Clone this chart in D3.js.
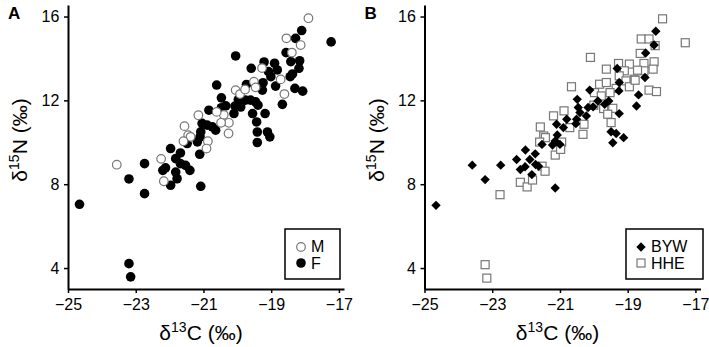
<!DOCTYPE html>
<html>
<head>
<meta charset="utf-8">
<script src="https://cdn.jsdelivr.net/npm/d3@7"></script>
<style>
    body { margin: 0; background: #fff; }
    text { font-family: "Liberation Sans", Arial, sans-serif; fill: #000; }
</style>
</head>
<body>
<div id="chart"></div>
<script>
// panel A - sex
var maleC = [-17.90, -18.55, -18.13, -18.39, -19.27, -18.72, -18.61, -19.51, -20.05, -19.92, -19.77, -19.46,
    -21.15, -20.40, -20.25, -20.48, -21.56, -21.45, -21.38, -21.59, -20.87, -20.26, -20.91, -22.25, -22.17, -23.56, -20.61];
var maleN = [15.92, 14.96, 14.64, 14.28, 13.54, 13.00, 12.30, 12.89, 12.49, 12.30, 12.52, 12.62,
    11.29, 11.31, 10.93, 10.93, 10.77, 10.34, 10.26, 10.05, 10.05, 10.42, 9.70, 9.21, 8.14, 8.93, 11.45];
var femaleC = [-17.23, -18.10, -18.28, -18.56, -18.16, -18.42, -18.18, -18.37, -18.44, -18.30, -18.07, -18.67,
    -20.05, -19.59, -19.21, -18.90, -19.08, -18.82, -19.01, -19.24, -19.46, -19.73, -19.26, -18.87,
    -20.61, -20.47, -20.34, -20.07, -19.97, -19.76, -19.61, -19.46, -19.39, -19.90, -20.10, -19.18,
    -19.55, -19.43, -19.41, -19.11, -19.04, -19.41, -20.84, -20.47, -21.04, -20.89, -20.74, -20.64,
    -21.08, -21.10, -21.18, -21.11, -21.48, -21.97, -21.68, -21.82, -21.68, -21.53, -21.40, -22.12,
    -21.82, -21.78, -21.97, -21.08, -22.74, -23.20, -22.74, -24.66, -23.20, -23.15, -22.20];
var femaleN = [14.79, 15.33, 14.96, 14.28, 13.89, 13.85, 13.53, 13.26, 13.13, 12.57, 12.44, 11.81,
    14.12, 13.53, 13.83, 13.77, 13.37, 13.45, 13.13, 12.84, 12.73, 12.76, 12.49, 12.68,
    12.73, 12.12, 11.74, 11.73, 12.04, 12.01, 12.01, 11.93, 11.77, 11.68, 11.37, 11.37,
    11.37, 10.97, 10.49, 10.49, 10.26, 9.99, 11.53, 11.65, 10.90, 10.82, 10.74, 10.58,
    10.50, 10.26, 10.02, 9.43, 9.94, 9.70, 9.49, 9.22, 8.98, 8.90, 8.66, 8.78,
    8.58, 8.26, 7.95, 7.90, 8.98, 8.25, 7.55, 7.04, 4.21, 3.58, 8.66];

// panel B - species
var bywC = [-18.17, -18.22, -18.47, -18.49, -18.68, -18.74, -19.31, -19.25, -19.26, -19.25, -19.49, -19.34,
    -19.44, -19.12, -19.68, -19.56, -19.88, -20.12, -20.02, -20.17, -20.49, -20.46, -20.41, -20.51,
    -20.53, -20.22, -20.80, -21.10, -20.90, -21.08, -21.14, -21.22, -21.53, -22.02, -21.73, -21.89,
    -22.28, -21.72, -21.63, -22.17, -21.83, -22.03, -21.14, -22.75, -23.59, -23.21, -24.66, -21.00];
var bywN = [15.30, 14.64, 14.26, 13.09, 12.26, 11.73, 13.52, 12.85, 12.45, 11.37, 10.50, 10.42,
    9.98, 10.22, 11.81, 11.97, 11.97, 12.49, 11.69, 11.66, 12.05, 11.66, 11.42, 11.10,
    10.89, 11.26, 11.10, 10.86, 10.70, 10.35, 10.06, 9.87, 9.90, 9.63, 9.45, 9.18,
    9.18, 8.94, 8.86, 8.70, 8.46, 8.83, 7.82, 8.91, 8.91, 8.22, 6.99, 9.90];
var hheC = [-17.97, -17.30, -18.60, -18.37, -18.19, -18.63, -20.10, -19.63, -19.27, -18.95, -18.52, -18.22,
    -18.25, -18.52, -18.71, -19.10, -19.25, -18.81, -19.05, -18.95, -18.78, -18.37, -18.15, -20.66,
    -19.83, -19.63, -19.98, -19.34, -19.52, -19.78, -20.00, -19.71, -19.44, -19.59, -19.49, -20.88,
    -21.19, -20.29, -20.71, -20.32, -21.58, -21.48, -21.43, -21.60, -20.95, -21.14, -20.98, -21.53,
    -21.44, -22.17, -21.97, -21.81, -22.77, -23.21, -23.16];
var hheN = [15.89, 14.75, 14.93, 14.93, 14.61, 14.24, 14.05, 13.49, 13.76, 13.73, 13.76, 13.84,
    13.49, 13.41, 13.44, 13.41, 13.17, 13.01, 12.93, 12.65, 12.96, 12.49, 12.42, 12.65,
    12.77, 12.85, 12.37, 12.57, 12.37, 12.21, 11.77, 11.61, 11.62, 11.34, 10.94, 11.50,
    11.26, 10.86, 10.70, 10.38, 10.73, 10.30, 10.22, 10.01, 10.01, 9.39, 9.66, 8.86,
    8.62, 8.09, 7.87, 8.20, 7.50, 4.16, 3.52];

var xTicks = [-25, -23, -21, -19, -17];
var yTicks = [4, 8, 12, 16];

var W = 709, H = 347;

var svg = d3.select("#chart")
    .append("svg")
    .attr("width", W)
    .attr("height", H);

function zip(cs, ns) {
    return cs.map(function (c, i) { return { c: c, n: ns[i] }; });
}

// draws axes + titles for one panel, returns scales
function panel(x0, letter) {
    var x = d3.scaleLinear().domain([-25, -16.85]).range([x0, x0 + 276]);
    var y = d3.scaleLinear().domain([3, 16.55]).range([289, 5]);
    var g = svg.append("g");

    var ax = g.append("g")
        .attr("transform", "translate(0,289)")
        .call(d3.axisBottom(x).tickValues(xTicks).tickSize(4).tickSizeOuter(0));
    var ay = g.append("g")
        .attr("transform", "translate(" + x0 + ",0)")
        .call(d3.axisLeft(y).tickValues(yTicks).tickSize(4).tickSizeOuter(0));

    [ax, ay].forEach(function (a) {
        a.select(".domain").attr("stroke", "#000").attr("stroke-width", 2);
        a.selectAll(".tick line").attr("stroke", "#000").attr("stroke-width", 1.5);
        a.selectAll(".tick text").attr("font-size", "16px").attr("fill", "#000")
            .style("font-family", "'Liberation Sans', Arial, sans-serif");
    });
    ax.selectAll(".tick text").attr("dy", "0.9em");
    ay.selectAll(".tick text").attr("dx", "-0.1em");

    // x title
    var xt = g.append("text")
        .attr("x", x0 + 133)
        .attr("y", 340)
        .attr("text-anchor", "middle")
        .attr("font-size", "21px");
    xt.append("tspan").text("δ");
    xt.append("tspan").attr("font-size", "14px").attr("dy", "-8").text("13");
    xt.append("tspan").attr("dy", "8").text("C (‰)");

    // y title
    var yt = g.append("text")
        .attr("transform", "translate(" + (x0 - 41) + ",140) rotate(-90)")
        .attr("text-anchor", "middle")
        .attr("font-size", "21px");
    yt.append("tspan").text("δ");
    yt.append("tspan").attr("font-size", "14px").attr("dy", "-8").text("15");
    yt.append("tspan").attr("dy", "8").text("N (‰)");

    g.append("text")
        .attr("x", x0 - 60)
        .attr("y", 19)
        .attr("font-size", "17px")
        .attr("font-weight", "bold")
        .text(letter);

    return { x: x, y: y, g: g };
}

/* panel A */
var A = panel(68, "A");

A.g.selectAll("circle.f")
    .data(zip(femaleC, femaleN))
    .enter()
    .append("circle")
    .attr("class", "f")
    .attr("cx", function (d) { return A.x(d.c); })
    .attr("cy", function (d) { return A.y(d.n); })
    .attr("r", 4.8)
    .attr("fill", "#000");

A.g.selectAll("circle.m")
    .data(zip(maleC, maleN))
    .enter()
    .append("circle")
    .attr("class", "m")
    .attr("cx", function (d) { return A.x(d.c); })
    .attr("cy", function (d) { return A.y(d.n); })
    .attr("r", 4.3)
    .attr("fill", "#fff")
    .attr("stroke", "#777")
    .attr("stroke-width", 1.2);

// legend A
A.g.append("rect").attr("x", 285).attr("y", 229).attr("width", 55).attr("height", 50)
    .attr("fill", "#fff").attr("stroke", "#000").attr("stroke-width", 1.5);
A.g.append("circle").attr("cx", 301).attr("cy", 247).attr("r", 4.3)
    .attr("fill", "#fff").attr("stroke", "#777").attr("stroke-width", 1.2);
A.g.append("circle").attr("cx", 301).attr("cy", 263).attr("r", 4.8).attr("fill", "#000");
A.g.append("text").attr("x", 311).attr("y", 252).attr("font-size", "16px").text("M");
A.g.append("text").attr("x", 311).attr("y", 269).attr("font-size", "16px").text("F");

/* panel B */
var B = panel(424.5, "B");

B.g.selectAll("rect.h")
    .data(zip(hheC, hheN))
    .enter()
    .append("rect")
    .attr("class", "h")
    .attr("x", function (d) { return B.x(d.c) - 4; })
    .attr("y", function (d) { return B.y(d.n) - 4; })
    .attr("width", 8)
    .attr("height", 8)
    .attr("fill", "#fff")
    .attr("stroke", "#777")
    .attr("stroke-width", 1.2);

var diamond = d3.symbol().type(d3.symbolDiamond2).size(56);
B.g.selectAll("path.b")
    .data(zip(bywC, bywN))
    .enter()
    .append("path")
    .attr("class", "b")
    .attr("d", diamond)
    .attr("transform", function (d) { return "translate(" + B.x(d.c) + "," + B.y(d.n) + ")"; })
    .attr("fill", "#000");

// legend B
B.g.append("rect").attr("x", 626).attr("y", 229).attr("width", 77).attr("height", 50)
    .attr("fill", "#fff").attr("stroke", "#000").attr("stroke-width", 1.5);
B.g.append("path").attr("d", diamond).attr("transform", "translate(641,247)").attr("fill", "#000");
B.g.append("rect").attr("x", 637).attr("y", 259).attr("width", 8).attr("height", 8)
    .attr("fill", "#fff").attr("stroke", "#777").attr("stroke-width", 1.2);
B.g.append("text").attr("x", 651).attr("y", 252).attr("font-size", "16px").text("BYW");
B.g.append("text").attr("x", 651).attr("y", 269).attr("font-size", "16px").text("HHE");
</script>
</body>
</html>
